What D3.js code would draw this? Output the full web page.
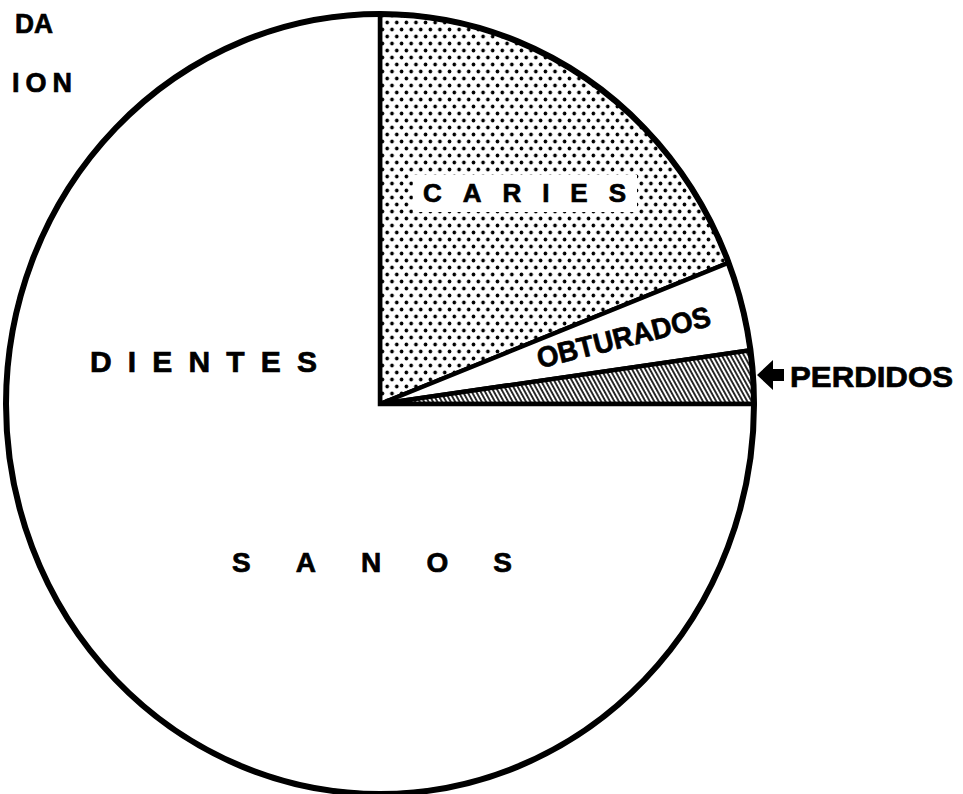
<!DOCTYPE html>
<html>
<head>
<meta charset="utf-8">
<script src="https://cdn.jsdelivr.net/npm/d3@7"></script>
<style>
  body { margin: 0; background: #fff; }
  svg text { font-family: "Liberation Sans", Arial, sans-serif; font-weight: bold; fill: #000;
             stroke: #000; stroke-width: 0.7px; }
</style>
</head>
<body>
<div id="chart"></div>
<script>
// slices, clockwise from 12 o'clock
var categories = ["CARIES", "OBTURADOS", "PERDIDOS", "SANOS"];
var values = [19.1, 3.7, 2.2, 75.0];
var fills = ["url(#dots)", "#fff", "url(#hatch)", "#fff"];

var W = 963, H = 794;
var cx = 380, cy = 404, rx = 374, ry = 390;

var svg = d3.select("#chart").append("svg").attr("width", W).attr("height", H);
var defs = svg.append("defs");

// dotted screen for caries
var dots = defs.append("pattern").attr("id", "dots").attr("patternUnits", "userSpaceOnUse")
    .attr("width", 10).attr("height", 14);
dots.append("rect").attr("width", 10).attr("height", 14).attr("fill", "#fff");
dots.append("circle").attr("cx", 2.5).attr("cy", 3.5).attr("r", 1.9).attr("fill", "#000");
dots.append("circle").attr("cx", 7.5).attr("cy", 10.5).attr("r", 1.9).attr("fill", "#000");

// hatch for perdidos
var hatch = defs.append("pattern").attr("id", "hatch").attr("patternUnits", "userSpaceOnUse")
    .attr("width", 4).attr("height", 10).attr("patternTransform", "rotate(-30)");
hatch.append("rect").attr("width", 4).attr("height", 10).attr("fill", "#fff");
hatch.append("line").attr("x1", 1).attr("y1", 0).attr("x2", 1).attr("y2", 10)
    .attr("stroke", "#000").attr("stroke-width", 1.7);

var pie = d3.pie().sort(null).value(function(d) { return d; });
var arcs = pie(values);
var arc = d3.arc().innerRadius(0).outerRadius(ry);

var g = svg.append("g").attr("transform", "translate(" + cx + "," + cy + ") scale(" + (rx / ry) + ",1)");
g.selectAll("path.slice").data(arcs).enter().append("path")
    .attr("class", "slice")
    .attr("d", arc)
    .attr("fill", function(d, i) { return fills[i]; })
    .attr("stroke", "#000")
    .attr("stroke-width", 4.5)
    .attr("vector-effect", "non-scaling-stroke");

// outer rim
svg.append("ellipse").attr("cx", cx).attr("cy", cy).attr("rx", rx).attr("ry", ry)
    .attr("fill", "none").attr("stroke", "#000").attr("stroke-width", 6);

// white box behind CARIES
svg.append("rect").attr("x", 413).attr("y", 175).attr("width", 224).attr("height", 37).attr("fill", "#fff");

function label(txt, x, y, size, len, adj) {
    return svg.append("text").attr("x", x).attr("y", y)
        .style("font-size", size + "px")
        .attr("textLength", len).attr("lengthAdjust", adj || "spacing")
        .text(txt);
}

label(categories[0], 423, 202, 26, 203);
label("DIENTES", 90, 372, 30, 227);
label(categories[3], 232, 572, 28, 280);
label(categories[2], 790, 387, 30, 163, "spacingAndGlyphs");

// rotated label in the thin slice
var ang = -14;
svg.append("text")
    .attr("transform", "translate(626,347) rotate(" + ang + ")")
    .attr("x", -89).attr("y", 0)
    .style("font-size", "29px")
    .attr("textLength", 178).attr("lengthAdjust", "spacingAndGlyphs")
    .text(categories[1]);

// arrow pointing at perdidos
svg.append("path")
    .attr("d", "M757,375 L773,360 L773,369 L784,369 L784,381 L773,381 L773,390 Z")
    .attr("fill", "#000");

// cut-off title fragments at top left
label("DA", 15, 33, 27, 38, "spacingAndGlyphs");
label("ION", 12, 92, 27, 60);
</script>
</body>
</html>
